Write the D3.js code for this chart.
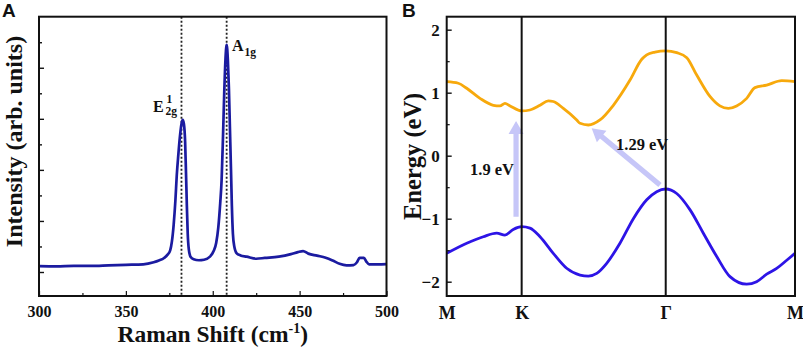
<!DOCTYPE html>
<html><head><meta charset="utf-8">
<script src="https://cdn.jsdelivr.net/npm/d3@7"></script>
<style>body{margin:0;background:#fff}svg{display:block}</style>
</head><body>
<svg id="chart" width="803" height="350"></svg>
<script>
// ---------- Panel A : Raman spectrum ----------
const ramanShift = [300,310,320,330,340,350,360,366,369,372,374,375.5,376.5,377.5,378.5,379.3,380.2,381.1,382,382.7,383.4,384.1,384.6,385.1,385.6,386.2,387.2,389,392,395,398.4,400.5,402,403.2,404.3,405.1,405.9,406.6,407.3,408,408.7,409.3,409.9,410.5,411,411.6,412.4,413.8,416,419.5,425,430,438,445,449,452,455,460,465,469,473,477,481,483,484.5,487,488.5,490,495,500];
const ramanIntensity = [0.23,0.22,0.24,0.24,0.26,0.28,0.3,0.38,0.45,0.55,0.68,0.85,1.2,1.85,2.8,3.8,4.6,5.3,5.8,5.96,5.8,5.1,3.9,2.6,1.5,0.9,0.6,0.5,0.46,0.48,0.6,0.82,1.15,1.75,2.7,3.6,5.3,7.0,8.3,8.9,8.3,7.2,5.6,4.0,2.6,1.5,1.0,0.73,0.65,0.6,0.52,0.55,0.6,0.7,0.78,0.82,0.72,0.64,0.56,0.45,0.32,0.26,0.27,0.38,0.55,0.55,0.4,0.3,0.3,0.31];
const ramanTicks = [300,350,400,450,500];
const ramanMinorTicks = [325,375,425,475];
const intensityTicks = [0,1,2,3,4,5,6,7,8,9];
const peakPositions = [382,408];

// ---------- Panel B : band structure ----------
const kPointPos = [0,0.588,1.718,2.732];
const kPointLabels = ["M","K","Γ","M"];
const cbK = [0,0.091,0.157,0.261,0.366,0.418,0.457,0.497,0.588,0.653,0.732,0.797,0.836,0.915,1.02,1.046,1.111,1.202,1.307,1.438,1.53,1.569,1.634,1.718,1.804,1.883,1.961,2.065,2.143,2.209,2.274,2.353,2.418,2.51,2.628,2.732];
const cbE = [1.175,1.15,1.07,0.91,0.8,0.79,0.83,0.79,0.71,0.725,0.8,0.87,0.86,0.75,0.567,0.514,0.487,0.567,0.8,1.2,1.53,1.6,1.645,1.665,1.635,1.556,1.28,0.94,0.79,0.75,0.79,0.91,1.08,1.12,1.19,1.175];
const vbK = [0,0.157,0.287,0.392,0.457,0.522,0.588,0.653,0.732,0.836,0.941,1.046,1.111,1.177,1.255,1.359,1.464,1.569,1.647,1.718,1.804,1.909,2.013,2.118,2.222,2.353,2.431,2.51,2.588,2.667,2.732];
const vbE = [-1.55,-1.39,-1.286,-1.23,-1.26,-1.17,-1.127,-1.15,-1.286,-1.55,-1.787,-1.894,-1.91,-1.867,-1.708,-1.39,-1.0,-0.7,-0.571,-0.529,-0.6,-0.86,-1.23,-1.6,-1.92,-2.04,-2.0,-1.88,-1.79,-1.66,-1.55];
const energyTicks = [-2,-1,0,1,2];
const energyMinorTicks = [-1.5,-0.5,0.5,1.5];
const arrowStartK = [0.544,1.673];
const arrowStartE = [-0.97,-0.465];
const arrowEndK = [0.544,1.137];
const arrowEndE = [0.55,0.435];
const gapLabels = ["1.9 eV","1.29 eV"];

const svg = d3.select("#chart");
const serif = "'Liberation Serif','Times New Roman',serif";
const sans = "'Liberation Sans',Arial,sans-serif";
const ink = "#111";

// ===== Panel A =====
const A = {l:39, r:386.5, t:16.7, b:296};
const xA = d3.scaleLinear().domain([300,500]).range([A.l, A.r]);
const yA = d3.scaleLinear().domain([-0.94,10.0]).range([A.b, A.t]);
const gA = svg.append("g");

gA.selectAll("line.peak").data(peakPositions).join("line")
  .attr("x1", d=>xA(d)).attr("x2", d=>xA(d)).attr("y1", A.t).attr("y2", A.b)
  .attr("stroke","#222").attr("stroke-width",1.8).attr("stroke-dasharray","2,2");

const ramanData = ramanShift.map((x,i)=>[x, ramanIntensity[i]]);
gA.append("path").datum(ramanData)
  .attr("d", d3.line().x(d=>xA(d[0])).y(d=>yA(d[1])).curve(d3.curveMonotoneX))
  .attr("fill","none").attr("stroke","#1b1ba0").attr("stroke-width",2.7).attr("stroke-linejoin","round");

const gAx = gA.append("g").attr("transform",`translate(0,${A.b})`)
  .call(d3.axisBottom(xA).tickValues(ramanTicks).tickSizeInner(-5).tickSizeOuter(0).tickPadding(10).tickFormat(d3.format("d")));
gAx.select(".domain").remove();
gAx.selectAll("text").attr("font-family",serif).attr("font-weight","bold").attr("font-size",16).attr("fill",ink);
gAx.selectAll("line").attr("stroke",ink).attr("stroke-width",1.2);
gA.append("g").attr("transform",`translate(0,${A.b})`)
  .call(d3.axisBottom(xA).tickValues(ramanMinorTicks).tickSizeInner(-3).tickSizeOuter(0).tickFormat(""))
  .call(g=>{g.select(".domain").remove(); g.selectAll("line").attr("stroke",ink).attr("stroke-width",1.2);});

const gAy = gA.append("g").attr("transform",`translate(${A.l},0)`)
  .call(d3.axisLeft(yA).tickValues(intensityTicks).tickSizeInner(0).tickSizeOuter(0).tickFormat(""));
gAy.select(".domain").remove();
gAy.selectAll(".tick line").attr("x2", d=> d%2===0 ? 5 : 3).attr("stroke",ink).attr("stroke-width",1.4);

gA.append("rect").attr("x",A.l).attr("y",A.t).attr("width",A.r-A.l).attr("height",A.b-A.t)
  .attr("fill","none").attr("stroke",ink).attr("stroke-width",2);

function lab(x,y,size,t){ return gA.append("text").attr("x",x).attr("y",y).attr("font-family",serif)
  .attr("font-weight","bold").attr("font-size",size).attr("fill",ink).text(t); }
lab(153,111.5,16,"E");
lab(166.5,103,11.5,"1");
lab(165.5,114.5,11.5,"2g");
lab(232,51,16,"A");
lab(244.5,55.5,11.5,"1g");

const xt = gA.append("text").attr("x",(A.l+A.r)/2).attr("y",342).attr("text-anchor","middle")
  .attr("font-family",serif).attr("font-weight","bold").attr("font-size",23.5).attr("fill",ink);
xt.append("tspan").text("Raman Shift (cm");
xt.append("tspan").attr("font-size",14).attr("dy",-9).text("-1");
xt.append("tspan").attr("dy",9).text(")");
gA.append("text").attr("transform",`translate(21.5,141.5) rotate(-90)`).attr("text-anchor","middle")
  .attr("font-family",serif).attr("font-weight","bold").attr("font-size",24).attr("fill",ink)
  .text("Intensity (arb. units)");
svg.append("text").attr("x",2).attr("y",17).attr("font-family",sans).attr("font-weight","bold").attr("font-size",19).attr("fill",ink).text("A");

// ===== Panel B =====
const B = {l:446.7, r:795, t:16.7, b:296};
const xB = d3.scaleLinear().domain([0,2.732]).range([B.l, B.r]);
const yB = d3.scaleLinear().domain([-2.227,2.206]).range([B.b, B.t]);
const gB = svg.append("g");

const arrowColor = "#c6c6f8";
arrowStartK.forEach((k0,i)=>{
  const x0=xB(k0), y0=yB(arrowStartE[i]), x1=xB(arrowEndK[i]), y1=yB(arrowEndE[i]);
  const dx=x1-x0, dy=y1-y0, L=Math.hypot(dx,dy), ux=dx/L, uy=dy/L, px=-uy, py=ux;
  const hl=13, hw=7.5, sw=2.6;
  const bx=x1-ux*hl, by=y1-uy*hl;
  const pts=[[x0+px*sw,y0+py*sw],[bx+px*sw,by+py*sw],[bx+px*hw,by+py*hw],[x1,y1],[bx-px*hw,by-py*hw],[bx-px*sw,by-py*sw],[x0-px*sw,y0-py*sw]];
  gB.append("path").attr("d","M"+pts.map(p=>p.join(",")).join("L")+"Z").attr("fill",arrowColor);
});
gB.append("text").attr("x",470).attr("y",175).attr("font-family",serif).attr("font-weight","bold").attr("font-size",16.5).attr("fill",ink).text(gapLabels[0]);
gB.append("text").attr("x",616).attr("y",150).attr("font-family",serif).attr("font-weight","bold").attr("font-size",16.5).attr("fill",ink).text(gapLabels[1]);

const bandLine = d3.line().x(d=>xB(d[0])).y(d=>yB(d[1])).curve(d3.curveMonotoneX);
gB.append("path").datum(cbK.map((k,i)=>[k,cbE[i]])).attr("d",bandLine)
  .attr("fill","none").attr("stroke","#f7a90c").attr("stroke-width",2.8);
gB.append("path").datum(vbK.map((k,i)=>[k,vbE[i]])).attr("d",bandLine)
  .attr("fill","none").attr("stroke","#2d14e6").attr("stroke-width",2.8);

gB.selectAll("line.hs").data(kPointPos.slice(1,3)).join("line")
  .attr("x1",d=>xB(d)).attr("x2",d=>xB(d)).attr("y1",B.t).attr("y2",B.b)
  .attr("stroke",ink).attr("stroke-width",2);

const gBy = gB.append("g").attr("transform",`translate(${B.l},0)`)
  .call(d3.axisLeft(yB).tickValues(energyTicks).tickSizeInner(-5).tickSizeOuter(0).tickPadding(7).tickFormat(d3.format("d")));
gBy.select(".domain").remove();
gBy.selectAll("text").attr("font-family",serif).attr("font-weight","bold").attr("font-size",17).attr("fill",ink);
gBy.selectAll("line").attr("stroke",ink).attr("stroke-width",1.4);
gB.append("g").attr("transform",`translate(${B.l},0)`)
  .call(d3.axisLeft(yB).tickValues(energyMinorTicks).tickSizeInner(-3).tickSizeOuter(0).tickFormat(""))
  .call(g=>{g.select(".domain").remove(); g.selectAll("line").attr("stroke",ink).attr("stroke-width",1.2);});

const gBx = gB.append("g").attr("transform",`translate(0,${B.b})`)
  .call(d3.axisBottom(xB).tickValues(kPointPos).tickSize(0).tickPadding(10).tickFormat((d,i)=>kPointLabels[i]));
gBx.select(".domain").remove();
gBx.selectAll("text").attr("font-family",serif).attr("font-weight","bold").attr("font-size",18).attr("fill",ink);

gB.append("rect").attr("x",B.l).attr("y",B.t).attr("width",B.r-B.l).attr("height",B.b-B.t)
  .attr("fill","none").attr("stroke",ink).attr("stroke-width",2);

gB.append("text").attr("transform",`translate(421,${(B.t+B.b)/2}) rotate(-90)`).attr("text-anchor","middle")
  .attr("font-family",serif).attr("font-weight","bold").attr("font-size",24.5).attr("fill",ink).text("Energy (eV)");
svg.append("text").attr("x",402).attr("y",17).attr("font-family",sans).attr("font-weight","bold").attr("font-size",19).attr("fill",ink).text("B");
</script>
</body></html>
